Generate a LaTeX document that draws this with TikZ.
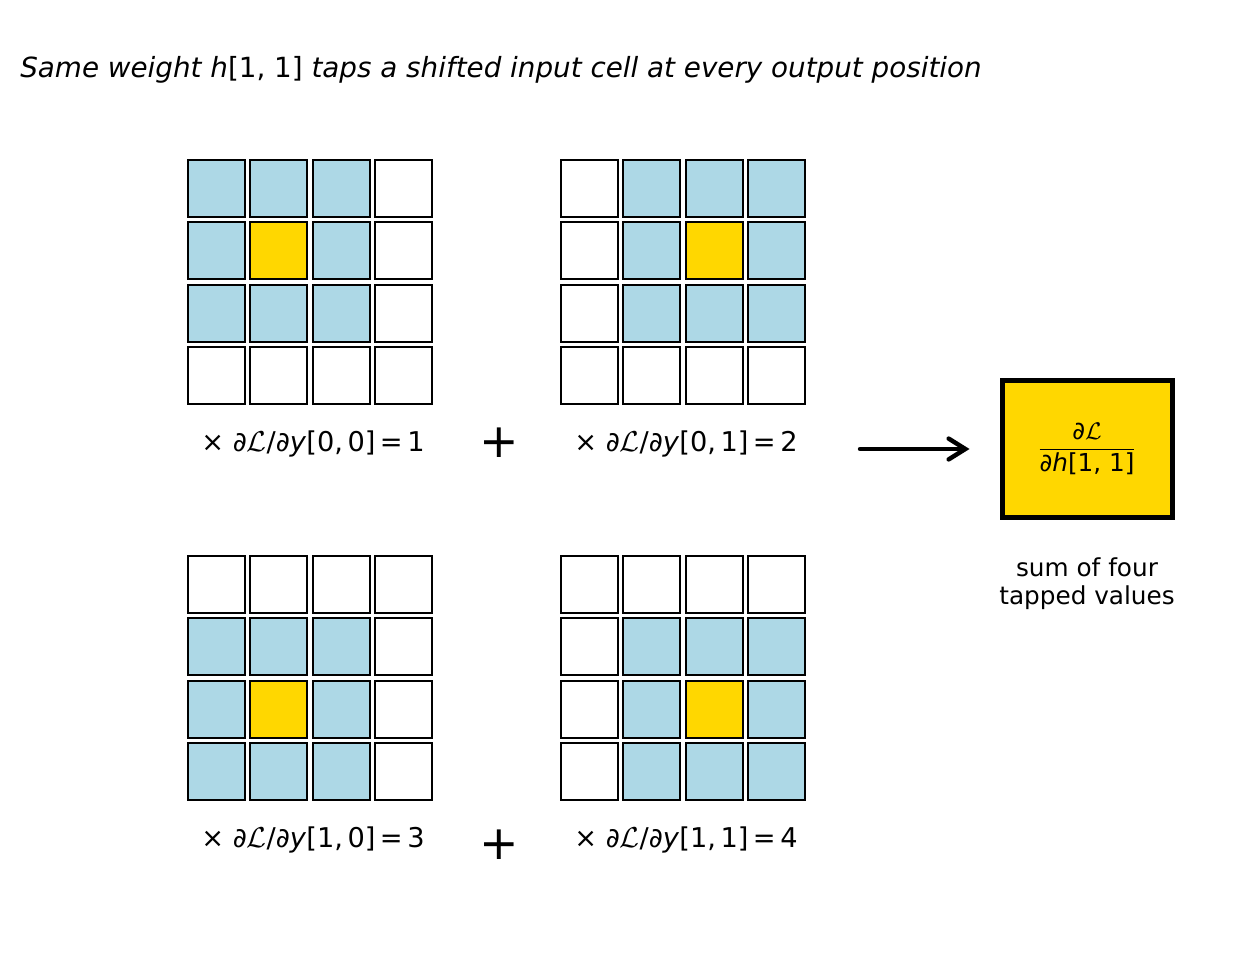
\documentclass[tikz,border=0pt]{standalone}
\usepackage{amsmath,amssymb}
\usepackage{fontspec}
\setmainfont{DejaVu Sans}
\usepackage{tikz}
\usetikzlibrary{positioning}
\usetikzlibrary{arrows.meta}

\definecolor{cellblue}{HTML}{ADD8E6}
\definecolor{tapgold}{HTML}{FFD700}

\tikzset{
  cell/.style={draw, line width=1.4pt, minimum size=41pt, inner sep=0pt},
  tapval/.style={anchor=base, inner sep=0pt, font=\fontsize{19.6}{23}\selectfont},
  plussign/.style={inner sep=0pt, font=\fontsize{34}{34}\selectfont},
  resbox/.style={draw, line width=3.6pt, fill=tapgold, minimum width=122.4pt, minimum height=98pt, inner sep=0pt, font=\fontsize{17.8}{21}\selectfont},
  flow/.style={line width=3.2pt, line cap=round, -{Straight Barb[length=12pt, width=15pt, line cap=round]}},
}

\newcommand{\dLoss}{\textit{∂}$\mathcal{L}$}

\begin{document}
\begin{tikzpicture}[x=0.72pt, y=-0.72pt]
  \useasboundingbox (0,0) rectangle (1248,955);

  \node[anchor=base west, inner sep=0pt, font=\fontsize{20}{24}\selectfont] (title) at (20,78)
    {\textit{Same weight h}[1, 1] \textit{taps a shifted input cell at every output position}};

  % one 4x4 input grid per output position y[a,b]
  \foreach \g/\gx/\gy/\a/\b in {A/216.5/188.5/0/0, B/589.5/188.5/0/1, C/216.5/584.5/1/0, D/589.5/584.5/1/1} {
    \foreach \r in {0,...,3} {
      \foreach \c in {0,...,3} {
        \pgfmathtruncatemacro\inwin{(\r>=\a)&&(\r<=\a+2)&&(\c>=\b)&&(\c<=\b+2)}
        \pgfmathtruncatemacro\istap{(\r==\a+1)&&(\c==\b+1)}
        \ifnum\istap=1 \def\fc{tapgold}\else\ifnum\inwin=1 \def\fc{cellblue}\else\def\fc{white}\fi\fi
        \node[cell, fill=\fc] (\g-\r-\c) at (\gx+62.3*\c, \gy+62.3*\r) {};
      }
    }
    \pgfmathtruncatemacro\gval{2*\a+\b+1}
    \node[tapval] (lbl-\g) at (\gx+96.5, \gy+263)
      {× \dLoss/\textit{∂y}[\a,\,\b]\,=\,\gval};
  }

  \node[plussign] (plusTop) at (499,443) {+};
  \node[plussign] (plusBot) at (499,845) {+};

  \node[resbox] (res) at (1087,449)
    {$\dfrac{\text{\textit{∂}}\mathcal{L}}{\text{\textit{∂h}[1, 1]}}$};
  \node[below=27pt of res, align=center, inner sep=0pt, font=\fontsize{17.8}{20.2}\selectfont] (sumlbl)
    {sum of four\\tapped values};

  \coordinate (arrtail) at (860,449);
  \draw[flow, shorten >=21.6pt] (arrtail) -- (res.west);
\end{tikzpicture}
\end{document}
